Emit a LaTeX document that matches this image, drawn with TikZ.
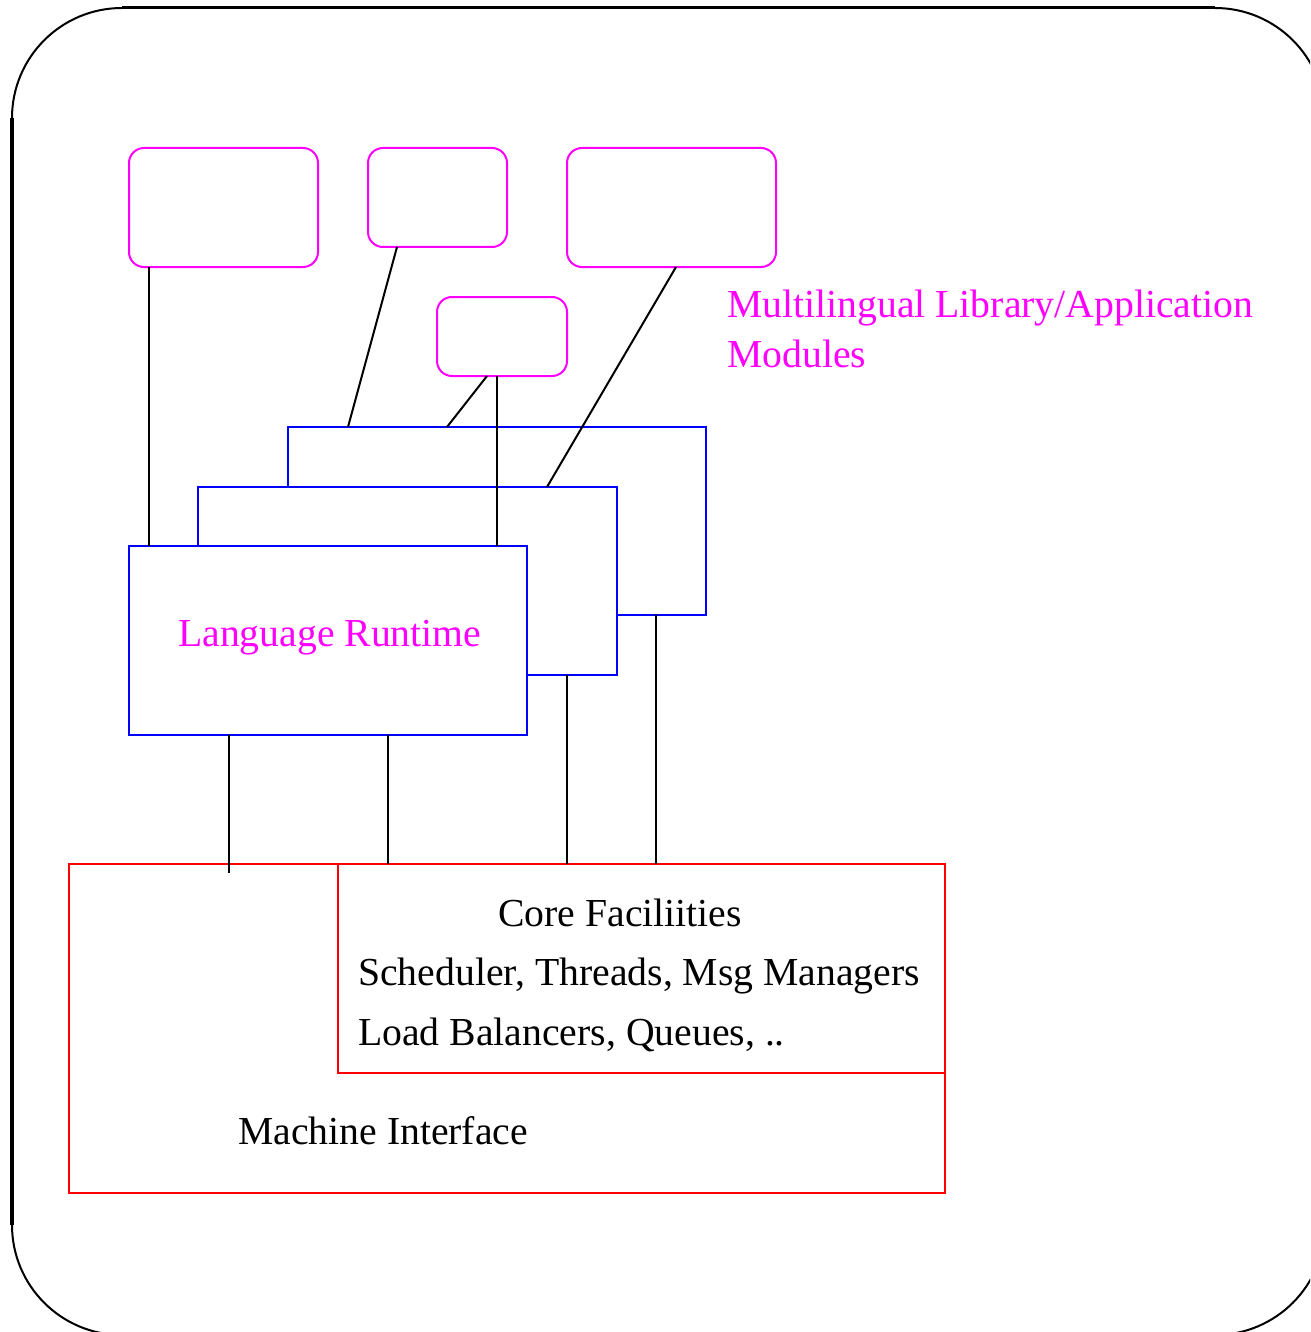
\documentclass[tikz,border=0pt]{standalone}
\usepackage{fontspec}
\setmainfont{Liberation Serif}
\definecolor{mag}{RGB}{255,0,255}
\definecolor{blu}{RGB}{0,0,255}
\definecolor{rd}{RGB}{255,0,0}
\tikzset{
  magbox/.style={draw=mag, line width=2pt, rounded corners=15pt, inner sep=0pt, outer sep=0pt, anchor=north west, fill=white},
  blubox/.style={draw=blu, line width=2pt, inner sep=0pt, outer sep=0pt, anchor=north west, fill=white},
  redbox/.style={draw=rd, line width=2pt, inner sep=0pt, outer sep=0pt, anchor=north west, fill=white},
  conn/.style={draw=black, line width=2pt},
  lbl/.style={inner sep=0pt, anchor=base west, font=\fontsize{39.7}{50}\selectfont},
}
\begin{document}
\begin{tikzpicture}[x=1pt,y=-1pt]
\useasboundingbox (0,0) rectangle (1310,1332);
\clip (0,0) rectangle (1310,1332);
% outer frame
\draw[line width=2pt, rounded corners=110pt] (12,8) rectangle (1325,1335);
\draw[line width=4pt] (12,118) -- (12,1225);
\draw[line width=3pt] (122,8) -- (1215,8);
% module boxes
\node[magbox, minimum width=189pt, minimum height=119pt] (m1) at (129,148) {};
\node[magbox, minimum width=139pt, minimum height=99pt] (m2) at (368,148) {};
\node[magbox, minimum width=209pt, minimum height=119pt] (m3) at (567,148) {};
\node[magbox, minimum width=130pt, minimum height=79pt] (m4) at (437,297) {};
% runtime boxes
\node[blubox, minimum width=418pt, minimum height=188pt] (back) at (288,427) {};
\node[blubox, minimum width=419pt, minimum height=188pt] (mid) at (198,487) {};
\node[blubox, minimum width=398pt, minimum height=189pt] (front) at (129,546) {};
% machine boxes
\node[redbox, minimum width=876pt, minimum height=329pt] (mach) at (69,864) {};
\node[redbox, minimum width=607pt, minimum height=209pt] (core) at (338,864) {};
\coordinate (free) at ([xshift=160pt,yshift=-9pt]mach.north west);
% connectors
\draw[conn] ([xshift=20pt]m1.south west) -- ([xshift=20pt]front.north west);
\draw[conn] ([xshift=29pt]m2.south west) -- ([xshift=60pt]back.north west);
\draw[conn] ([xshift=50pt]m4.south west) -- ([xshift=159pt]back.north west);
\draw[conn] ([xshift=60pt]m4.south west) -- ([xshift=368pt]front.north west);
\draw[conn] ([xshift=109pt]m3.south west) -- ([xshift=349pt]mid.north west);
\draw[conn] ([xshift=100pt]front.south west) -- (free);
\draw[conn] ([xshift=259pt]front.south west) -- ([xshift=50pt]core.north west);
\draw[conn] ([xshift=369pt]mid.south west) -- ([xshift=229pt]core.north west);
\draw[conn] ([xshift=368pt]back.south west) -- ([xshift=318pt]core.north west);
% labels
\node[lbl, text=mag] (lr) at (178,646) {Language Runtime};
\node[lbl, text=mag] (ml1) at (727,317) {Multilingual Library/Application};
\node[lbl, text=mag] (ml2) at (727,367) {Modules};
\node[lbl] (cf) at (498,926) {Core Faciliities};
\node[lbl] (sch) at (358,985) {Scheduler, Threads, Msg Managers};
\node[lbl] (lb) at (358,1045) {Load Balancers, Queues, ..};
\node[lbl] (mi) at (238,1144) {Machine Interface};
\end{tikzpicture}
\end{document}
